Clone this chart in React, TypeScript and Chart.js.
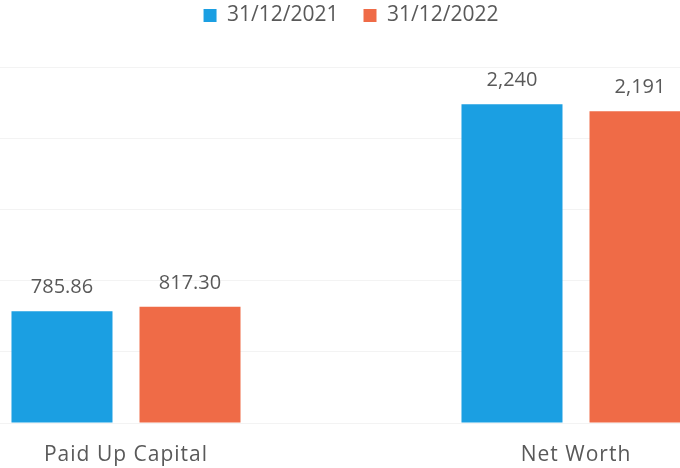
import React, { useEffect, useRef } from 'react';
import { Chart, registerables } from 'chart.js';

Chart.register(...registerables);

const categories = ['Paid Up Capital', 'Net Worth'];
const seriesNames = ['31/12/2021', '31/12/2022'];
const values2021 = [785.86, 2240];
const values2022 = [817.3, 2191];
const valueDecimals = [2, 0];
const gridTicks = [0, 500, 1000, 1500, 2000, 2500];
const yMin = 0;
const yMax = 2720;

const BLUE = '#1b9fe2';
const ORANGE = '#ef6b47';
const TEXT = '#595959';
const FONT = "'Open Sans', sans-serif";

function formatValue(v: number, catIndex: number): string {
  const d = valueDecimals[catIndex];
  return v.toLocaleString('en-US', { minimumFractionDigits: d, maximumFractionDigits: d });
}

const valueLabelPlugin = {
  id: 'valueLabels',
  afterDatasetsDraw(chart: any) {
    const ctx = chart.ctx;
    ctx.save();
    ctx.font = `20px ${FONT}`;
    ctx.fillStyle = TEXT;
    ctx.textAlign = 'center';
    ctx.textBaseline = 'alphabetic';
    chart.data.datasets.forEach((ds: any, di: number) => {
      const meta = chart.getDatasetMeta(di);
      meta.data.forEach((el: any, i: number) => {
        ctx.fillText(formatValue(ds.data[i], i), el.x, el.y - 18);
      });
    });
    ctx.restore();
  },
};

const categoryLabelPlugin = {
  id: 'categoryLabels',
  afterDraw(chart: any) {
    const ctx = chart.ctx;
    const xs = chart.scales.x;
    ctx.save();
    ctx.font = `21px ${FONT}`;
    ctx.fillStyle = TEXT;
    ctx.textAlign = 'center';
    ctx.textBaseline = 'alphabetic';
    try {
      (ctx as any).letterSpacing = '1px';
    } catch (e) {}
    categories.forEach((c, i) => {
      ctx.fillText(c, xs.getPixelForTick(i), chart.chartArea.bottom + 38);
    });
    ctx.restore();
  },
};

export default function App() {
  const ref = useRef<HTMLCanvasElement | null>(null);

  useEffect(() => {
    if (!ref.current) return;
    const chart = new Chart(ref.current, {
      type: 'bar',
      data: {
        labels: categories,
        datasets: [
          {
            label: seriesNames[0],
            data: values2021,
            backgroundColor: BLUE,
            borderWidth: 0,
            barPercentage: 0.789,
            categoryPercentage: 0.569,
          },
          {
            label: seriesNames[1],
            data: values2022,
            backgroundColor: ORANGE,
            borderWidth: 0,
            barPercentage: 0.789,
            categoryPercentage: 0.569,
          },
        ],
      },
      options: {
        responsive: false,
        animation: false,
        devicePixelRatio: 1,
        layout: { padding: { top: 0, bottom: 77, left: 0, right: 0 } },
        plugins: {
          legend: {
            position: 'top',
            align: 'center',
            labels: {
              font: { family: FONT, size: 21 },
              color: TEXT,
              boxWidth: 13,
              boxHeight: 13,
              padding: 25,
            },
          },
          tooltip: { enabled: false },
        },
        scales: {
          x: {
            grid: { display: false, drawTicks: false },
            border: { display: false },
            ticks: { display: false },
          },
          y: {
            min: yMin,
            max: yMax,
            grid: { color: '#f3f3f3', drawTicks: false },
            border: { display: false },
            ticks: { display: false },
            afterBuildTicks: (scale: any) => {
              scale.ticks = gridTicks.map((v) => ({ value: v }));
            },
          },
        },
      },
      plugins: [valueLabelPlugin, categoryLabelPlugin],
    });
    return () => chart.destroy();
  }, []);

  return (
    <div
      style={{
        position: 'fixed',
        left: 0,
        top: 0,
        width: 680,
        height: 468,
        overflow: 'hidden',
        background: '#ffffff',
      }}
    >
      <canvas
        ref={ref}
        width={900}
        height={520}
        style={{ position: 'absolute', left: -99, top: -20, width: 900, height: 520 }}
      />
    </div>
  );
}
